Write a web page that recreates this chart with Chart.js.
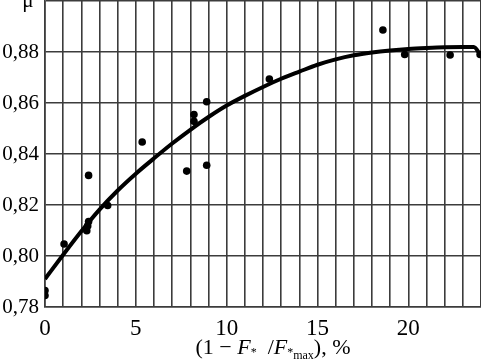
<!DOCTYPE html>
<html>
<head>
<meta charset="utf-8">
<script src="https://cdn.jsdelivr.net/npm/chart.js@4/dist/chart.umd.min.js"></script>
<style>
  body { margin: 0; background: #fff; }
  #wrap { width: 481px; height: 364px; }
</style>
</head>
<body>
<div id="wrap"><canvas id="chart"></canvas></div>
<script>
// measured points
const pointX = [0, 0, 1.05, 2.3, 2.35, 2.4, 2.4, 3.45, 5.35, 7.8, 8.2, 8.2, 8.9, 8.9, 12.35, 18.6, 19.8, 22.3, 23.95];
const pointY = [0.7865, 0.7845, 0.8047, 0.8099, 0.8118, 0.8135, 0.8316, 0.8198, 0.8447, 0.8333, 0.8528, 0.8555, 0.8605, 0.8356, 0.8694, 0.8886, 0.879, 0.8788, 0.879];

// fitted curve
const curveX = [0, 1, 2, 3, 4, 5, 6, 7, 8, 9, 10, 11, 12, 13, 14, 15, 16, 17, 18, 19, 20, 21, 22, 23, 23.6, 24];
const curveY = [0.791, 0.8005, 0.8097, 0.8182, 0.8257, 0.8323, 0.8383, 0.8441, 0.8495, 0.8545, 0.859, 0.8628, 0.8663, 0.8695, 0.8723, 0.875, 0.8771, 0.8787, 0.8798, 0.8806, 0.8812, 0.8816, 0.8819, 0.882, 0.882, 0.8785];

const xTickLabels = [0, 5, 10, 15, 20];
const yTickLabels = [0.78, 0.80, 0.82, 0.84, 0.86, 0.88];

const serif = "'Liberation Serif', 'DejaVu Serif', serif";
const gridColor = '#3c3c3c';

const labelsPlugin = {
  id: 'labels',
  afterDraw(chart) {
    const ctx = chart.ctx;
    ctx.save();
    ctx.fillStyle = '#000';
    // mu at top of y axis
    ctx.font = '21px ' + serif;
    ctx.textAlign = 'center';
    ctx.textBaseline = 'alphabetic';
    ctx.fillText('μ', 28, 7);

    // x axis title: (1 − F* /F*max), %
    const parts = [
      { t: '(1 − ', f: '22px ' + serif, dy: 0 },
      { t: 'F', f: 'italic 22px ' + serif, dy: 0 },
      { t: '*', f: '12px ' + serif, dy: 2 },
      { t: '  /', f: '22px ' + serif, dy: 0 },
      { t: 'F', f: 'italic 22px ' + serif, dy: 0 },
      { t: '*', f: '12px ' + serif, dy: 2 },
      { t: 'max', f: '12px ' + serif, dy: 5 },
      { t: '), %', f: '22px ' + serif, dy: 0 }
    ];
    let total = 0;
    parts.forEach(p => { ctx.font = p.f; p.w = ctx.measureText(p.t).width; total += p.w; });
    let x = 273 - total / 2;
    const base = 354;
    ctx.textAlign = 'left';
    parts.forEach(p => {
      ctx.font = p.f;
      ctx.fillText(p.t, x, base + p.dy);
      x += p.w;
    });
    ctx.restore();
  }
};

new Chart(document.getElementById('chart'), {
  type: 'scatter',
  data: {
    datasets: [
      {
        data: curveX.map((x, i) => ({ x, y: curveY[i] })),
        showLine: true,
        borderColor: '#000',
        borderWidth: 4,
        pointRadius: 0,
        cubicInterpolationMode: 'monotone'
      },
      {
        data: pointX.map((x, i) => ({ x, y: pointY[i] })),
        showLine: false,
        backgroundColor: '#000',
        borderColor: '#000',
        pointRadius: 3.8,
        pointBorderWidth: 0
      }
    ]
  },
  plugins: [labelsPlugin],
  options: {
    responsive: true,
    maintainAspectRatio: false,
    animation: false,
    layout: { autoPadding: false, padding: { top: 1, right: 0, left: 0, bottom: 0 } },
    plugins: { legend: { display: false }, tooltip: { enabled: false } },
    scales: {
      x: {
        type: 'linear',
        min: 0,
        max: 24,
        afterFit: (s) => { s.height = 57; s.paddingLeft = 0; s.paddingRight = 0; },
        grid: { color: gridColor, lineWidth: 1.6, drawTicks: false },
        border: { color: gridColor, width: 1.6 },
        ticks: {
          stepSize: 1,
          autoSkip: false,
          maxRotation: 0,
          padding: 8,
          color: '#000',
          font: { family: serif, size: 23 },
          callback: (v) => xTickLabels.includes(v) ? String(v) : ''
        }
      },
      y: {
        min: 0.78,
        max: 0.9,
        afterFit: (s) => { s.width = 45; s.paddingTop = 0; s.paddingBottom = 0; },
        grid: { color: gridColor, lineWidth: 1.6, drawTicks: false },
        border: { color: gridColor, width: 1.6 },
        ticks: {
          stepSize: 0.02,
          padding: 6,
          color: '#000',
          font: { family: serif, size: 21 },
          callback: (v) => {
            const hit = yTickLabels.find(t => Math.abs(t - v) < 1e-6);
            return hit === undefined ? '' : hit.toFixed(2).replace('.', ',');
          }
        }
      }
    }
  }
});
</script>
</body>
</html>
